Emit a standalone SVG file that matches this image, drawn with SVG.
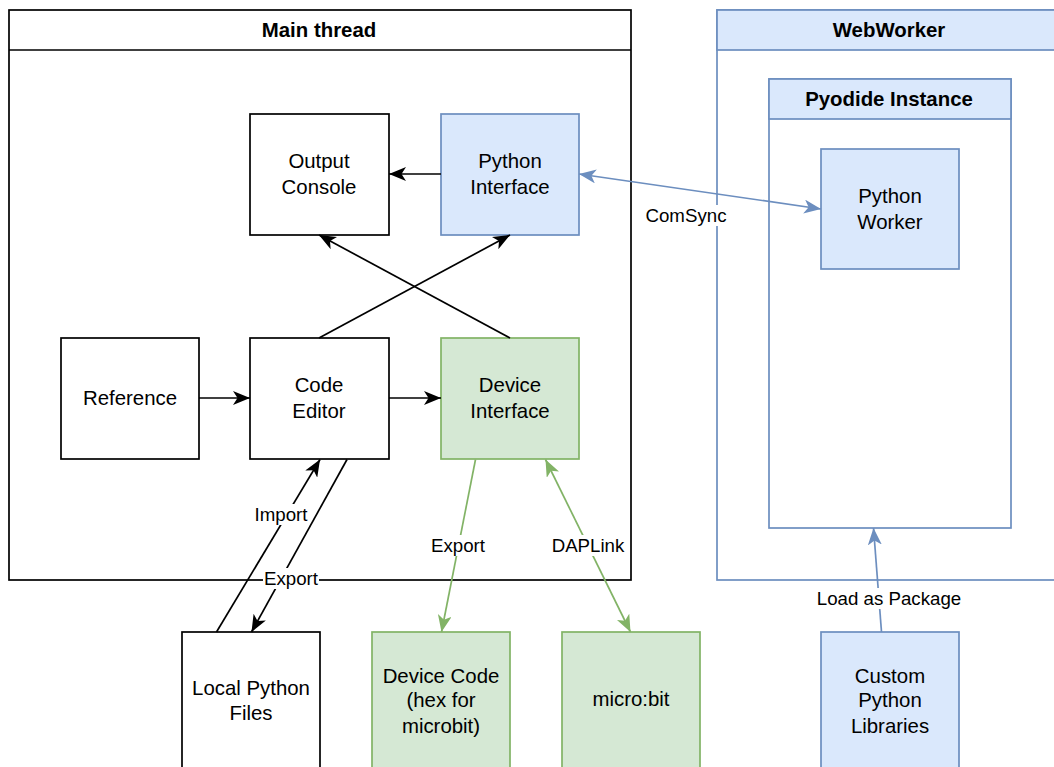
<svg xmlns="http://www.w3.org/2000/svg" width="1054" height="767" viewBox="0 0 1054 767">
<defs>
<style>
.box{fill:#ffffff;stroke:#000000;stroke-width:1.7}
.blue{fill:#dae8fc;stroke:#6c8ebf;stroke-width:1.7}
.green{fill:#d5e8d4;stroke:#82b366;stroke-width:1.7}
.bc{fill:#ffffff;stroke:#6c8ebf;stroke-width:1.7}
text{font-family:"Liberation Sans",Arial,Helvetica,sans-serif;fill:#000000;text-anchor:middle}
.t{font-size:20.4px}
.h{font-size:20.4px;font-weight:bold}
.l{font-size:18.7px}
.lbg{fill:#ffffff;stroke:none}
.e{fill:none;stroke:#000000;stroke-width:1.7}
.eb{fill:none;stroke:#6c8ebf;stroke-width:1.7}
.eg{fill:none;stroke:#82b366;stroke-width:1.7}
</style>
<marker id="ak" markerUnits="userSpaceOnUse" markerWidth="18" markerHeight="14" viewBox="0 0 18 14" refX="17" refY="7" orient="auto-start-reverse"><path d="M0,0 L17,7 L0,14 L4.5,7 Z" fill="#000000"/></marker>
<marker id="ab" markerUnits="userSpaceOnUse" markerWidth="18" markerHeight="14" viewBox="0 0 18 14" refX="17" refY="7" orient="auto-start-reverse"><path d="M0,0 L17,7 L0,14 L4.5,7 Z" fill="#6c8ebf"/></marker>
<marker id="ag" markerUnits="userSpaceOnUse" markerWidth="18" markerHeight="14" viewBox="0 0 18 14" refX="17" refY="7" orient="auto-start-reverse"><path d="M0,0 L17,7 L0,14 L4.5,7 Z" fill="#82b366"/></marker>
</defs>
<rect x="0" y="0" width="1054" height="767" fill="#ffffff"/>

<g id="main-thread">
<rect class="box" x="9" y="10" width="622" height="570"/>
<line x1="9" y1="50" x2="631" y2="50" stroke="#000000" stroke-width="1.7"/>
<text class="h" x="319" y="37">Main thread</text>
</g>

<g id="webworker">
<rect class="bc" x="717" y="10" width="344" height="570"/>
<rect class="blue" x="717" y="10" width="344" height="40"/>
<text class="h" x="889" y="37">WebWorker</text>
</g>

<g id="pyodide-instance">
<rect class="bc" x="769" y="79" width="242" height="449"/>
<rect class="blue" x="769" y="79" width="242" height="40"/>
<text class="h" x="889" y="106">Pyodide Instance</text>
</g>

<g id="python-worker">
<rect class="blue" x="821" y="149" width="138" height="120"/>
<text class="t" x="890" y="203">Python</text>
<text class="t" x="890" y="229">Worker</text>
</g>

<g id="output-console">
<rect class="box" x="250" y="114" width="139" height="121"/>
<text class="t" x="319" y="168">Output</text>
<text class="t" x="319" y="194">Console</text>
</g>

<g id="python-interface">
<rect class="blue" x="441" y="114" width="138" height="121"/>
<text class="t" x="510" y="168">Python</text>
<text class="t" x="510" y="194">Interface</text>
</g>

<g id="reference">
<rect class="box" x="61" y="338" width="138" height="121"/>
<text class="t" x="130" y="405">Reference</text>
</g>

<g id="code-editor">
<rect class="box" x="250" y="338" width="139" height="121"/>
<text class="t" x="319" y="392">Code</text>
<text class="t" x="319" y="418">Editor</text>
</g>

<g id="device-interface">
<rect class="green" x="441" y="338" width="138" height="121"/>
<text class="t" x="510" y="392">Device</text>
<text class="t" x="510" y="418">Interface</text>
</g>

<g id="local-python-files">
<rect class="box" x="182" y="632" width="138" height="138"/>
<text class="t" x="251" y="695">Local Python</text>
<text class="t" x="251" y="720">Files</text>
</g>

<g id="device-code">
<rect class="green" x="372" y="632" width="138" height="138"/>
<text class="t" x="441" y="683">Device Code</text>
<text class="t" x="441" y="707">(hex for</text>
<text class="t" x="441" y="733">microbit)</text>
</g>

<g id="microbit">
<rect class="green" x="562" y="632" width="138" height="138"/>
<text class="t" x="631" y="706">micro:bit</text>
</g>

<g id="custom-python-libraries">
<rect class="blue" x="821" y="632" width="138" height="138"/>
<text class="t" x="890" y="683">Custom</text>
<text class="t" x="890" y="707">Python</text>
<text class="t" x="890" y="733">Libraries</text>
</g>

<g id="connectors">
<path class="e" d="M441,174 L389,174" marker-end="url(#ak)"/>
<path class="e" d="M319,338 L510,235" marker-end="url(#ak)"/>
<path class="e" d="M510,338 L319,235" marker-end="url(#ak)"/>
<path class="e" d="M199,398 L250,398" marker-end="url(#ak)"/>
<path class="e" d="M389,398 L441,398" marker-end="url(#ak)"/>
<path class="e" d="M216.5,632 L320,459.5" marker-end="url(#ak)"/>
<path class="e" d="M347,459.5 L251.5,632" marker-end="url(#ak)"/>
<path class="eg" d="M475.5,459.5 L441.5,632" marker-end="url(#ag)"/>
<path class="eg" d="M545.5,459.5 L630.5,632" marker-start="url(#ag)" marker-end="url(#ag)"/>
<path class="eb" d="M579,174 L821,209" marker-start="url(#ab)" marker-end="url(#ab)"/>
<path class="eb" d="M881.5,632 L873.5,528" marker-end="url(#ab)"/>

<rect class="lbg" x="254" y="504" width="54" height="21"/>
<text class="l" x="281" y="521">Import</text>
<rect class="lbg" x="263" y="568" width="56" height="21"/>
<text class="l" x="291" y="585">Export</text>
<rect class="lbg" x="430" y="535" width="56" height="21"/>
<text class="l" x="458" y="552">Export</text>
<rect class="lbg" x="551" y="535" width="74" height="21"/>
<text class="l" x="588" y="552">DAPLink</text>
<rect class="lbg" x="645" y="205" width="82" height="21"/>
<text class="l" x="686" y="222">ComSync</text>
<rect class="lbg" x="816" y="588" width="146" height="21"/>
<text class="l" x="889" y="605">Load as Package</text>
</g>
</svg>
